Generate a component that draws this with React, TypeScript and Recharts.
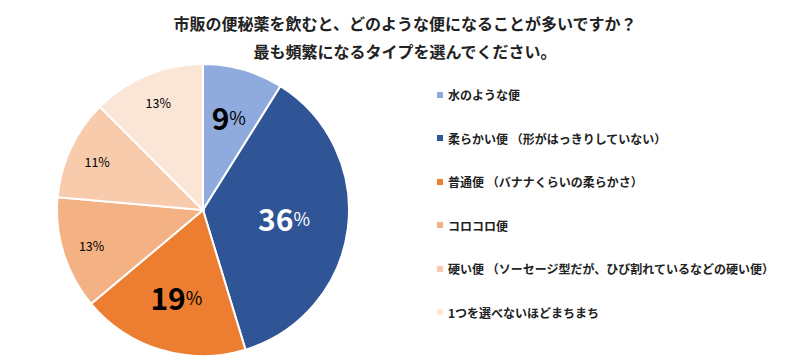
import React from 'react';
import { PieChart, Pie, Cell, Legend } from 'recharts';

const titleLines = [
  '市販の便秘薬を飲むと、どのような便になることが多いですか？',
  '最も頻繁になるタイプを選んでください。',
];

const categories = [
  '水のような便',
  '柔らかい便 （形がはっきりしていない）',
  '普通便 （バナナくらいの柔らかさ）',
  'コロコロ便',
  '硬い便 （ソーセージ型だが、ひび割れているなどの硬い便）',
  '1つを選べないほどまちまち',
];
const shares = [8.9, 36.4, 18.6, 12.5, 11.1, 12.5];
const colors = ['#8FAADC', '#2F5597', '#ED7D31', '#F4B183', '#F8CBAD', '#FBE5D6'];
const bigLabel = [true, true, true, false, false, false];
const labelColors = ['#000000', '#FFFFFF', '#000000', '#000000', '#000000', '#000000'];

const data = categories.map((name, i) => ({ name, value: shares[i] }));

const FONT = '"Noto Sans CJK JP", "Noto Sans", sans-serif';
const RAD = Math.PI / 180;

const renderLabel = (props: any) => {
  const { cx, cy, midAngle, outerRadius, index, value } = props;
  const big = bigLabel[index];
  const r = outerRadius * (big ? (index === 1 ? 0.56 : 0.64) : 0.8);
  const x = cx + r * Math.cos(-midAngle * RAD);
  const y = cy + r * Math.sin(-midAngle * RAD) - (big ? 3 : 0);
  return (
    <text
      x={x}
      y={y}
      textAnchor="middle"
      dominantBaseline="central"
      fill={labelColors[index]}
      fontFamily={FONT}
    >
      <tspan fontSize={big ? 30 : 12.5} fontWeight={big ? 700 : 400}>{Math.round(value)}</tspan>
      <tspan fontSize={big ? 18 : 12.5} fontWeight={400}>%</tspan>
    </text>
  );
};

const LegendList = () => (
  <div style={{ fontFamily: FONT }}>
    {categories.map((name, i) => (
      <div key={i} style={{ display: 'flex', alignItems: 'center', height: 43.5 }}>
        <div style={{ width: 6, height: 6, background: colors[i], marginRight: 5 }} />
        <span style={{ fontSize: 12, fontWeight: 700, color: '#222' }}>{name}</span>
      </div>
    ))}
  </div>
);

export default function App() {
  return (
    <div style={{ position: 'absolute', left: 0, top: 0, width: 800, height: 361, background: '#fff' }}>
      <div
        style={{
          position: 'absolute',
          left: 0,
          top: 9,
          width: 800,
          textAlign: 'center',
          fontFamily: FONT,
          fontWeight: 700,
          fontSize: 16,
          lineHeight: '28px',
          color: '#222',
        }}
      >
        {titleLines.map((t, i) => (
          <div key={i} style={{ paddingLeft: 10 }}>{t}</div>
        ))}
      </div>
      <PieChart width={800} height={361} style={{ position: 'absolute', left: 0, top: 0 }}>
        <Pie
          data={data}
          dataKey="value"
          nameKey="name"
          cx={198}
          cy={205}
          outerRadius={146}
          startAngle={90}
          endAngle={-270}
          stroke="#FFFFFF"
          strokeWidth={2}
          label={renderLabel}
          labelLine={false}
          isAnimationActive={false}
        >
          {data.map((d, i) => (
            <Cell key={i} fill={colors[i]} />
          ))}
        </Pie>
        <Legend
          layout="vertical"
          content={<LegendList />}
          wrapperStyle={{ position: 'absolute', left: 437, top: 73, width: 360 }}
        />
      </PieChart>
    </div>
  );
}
